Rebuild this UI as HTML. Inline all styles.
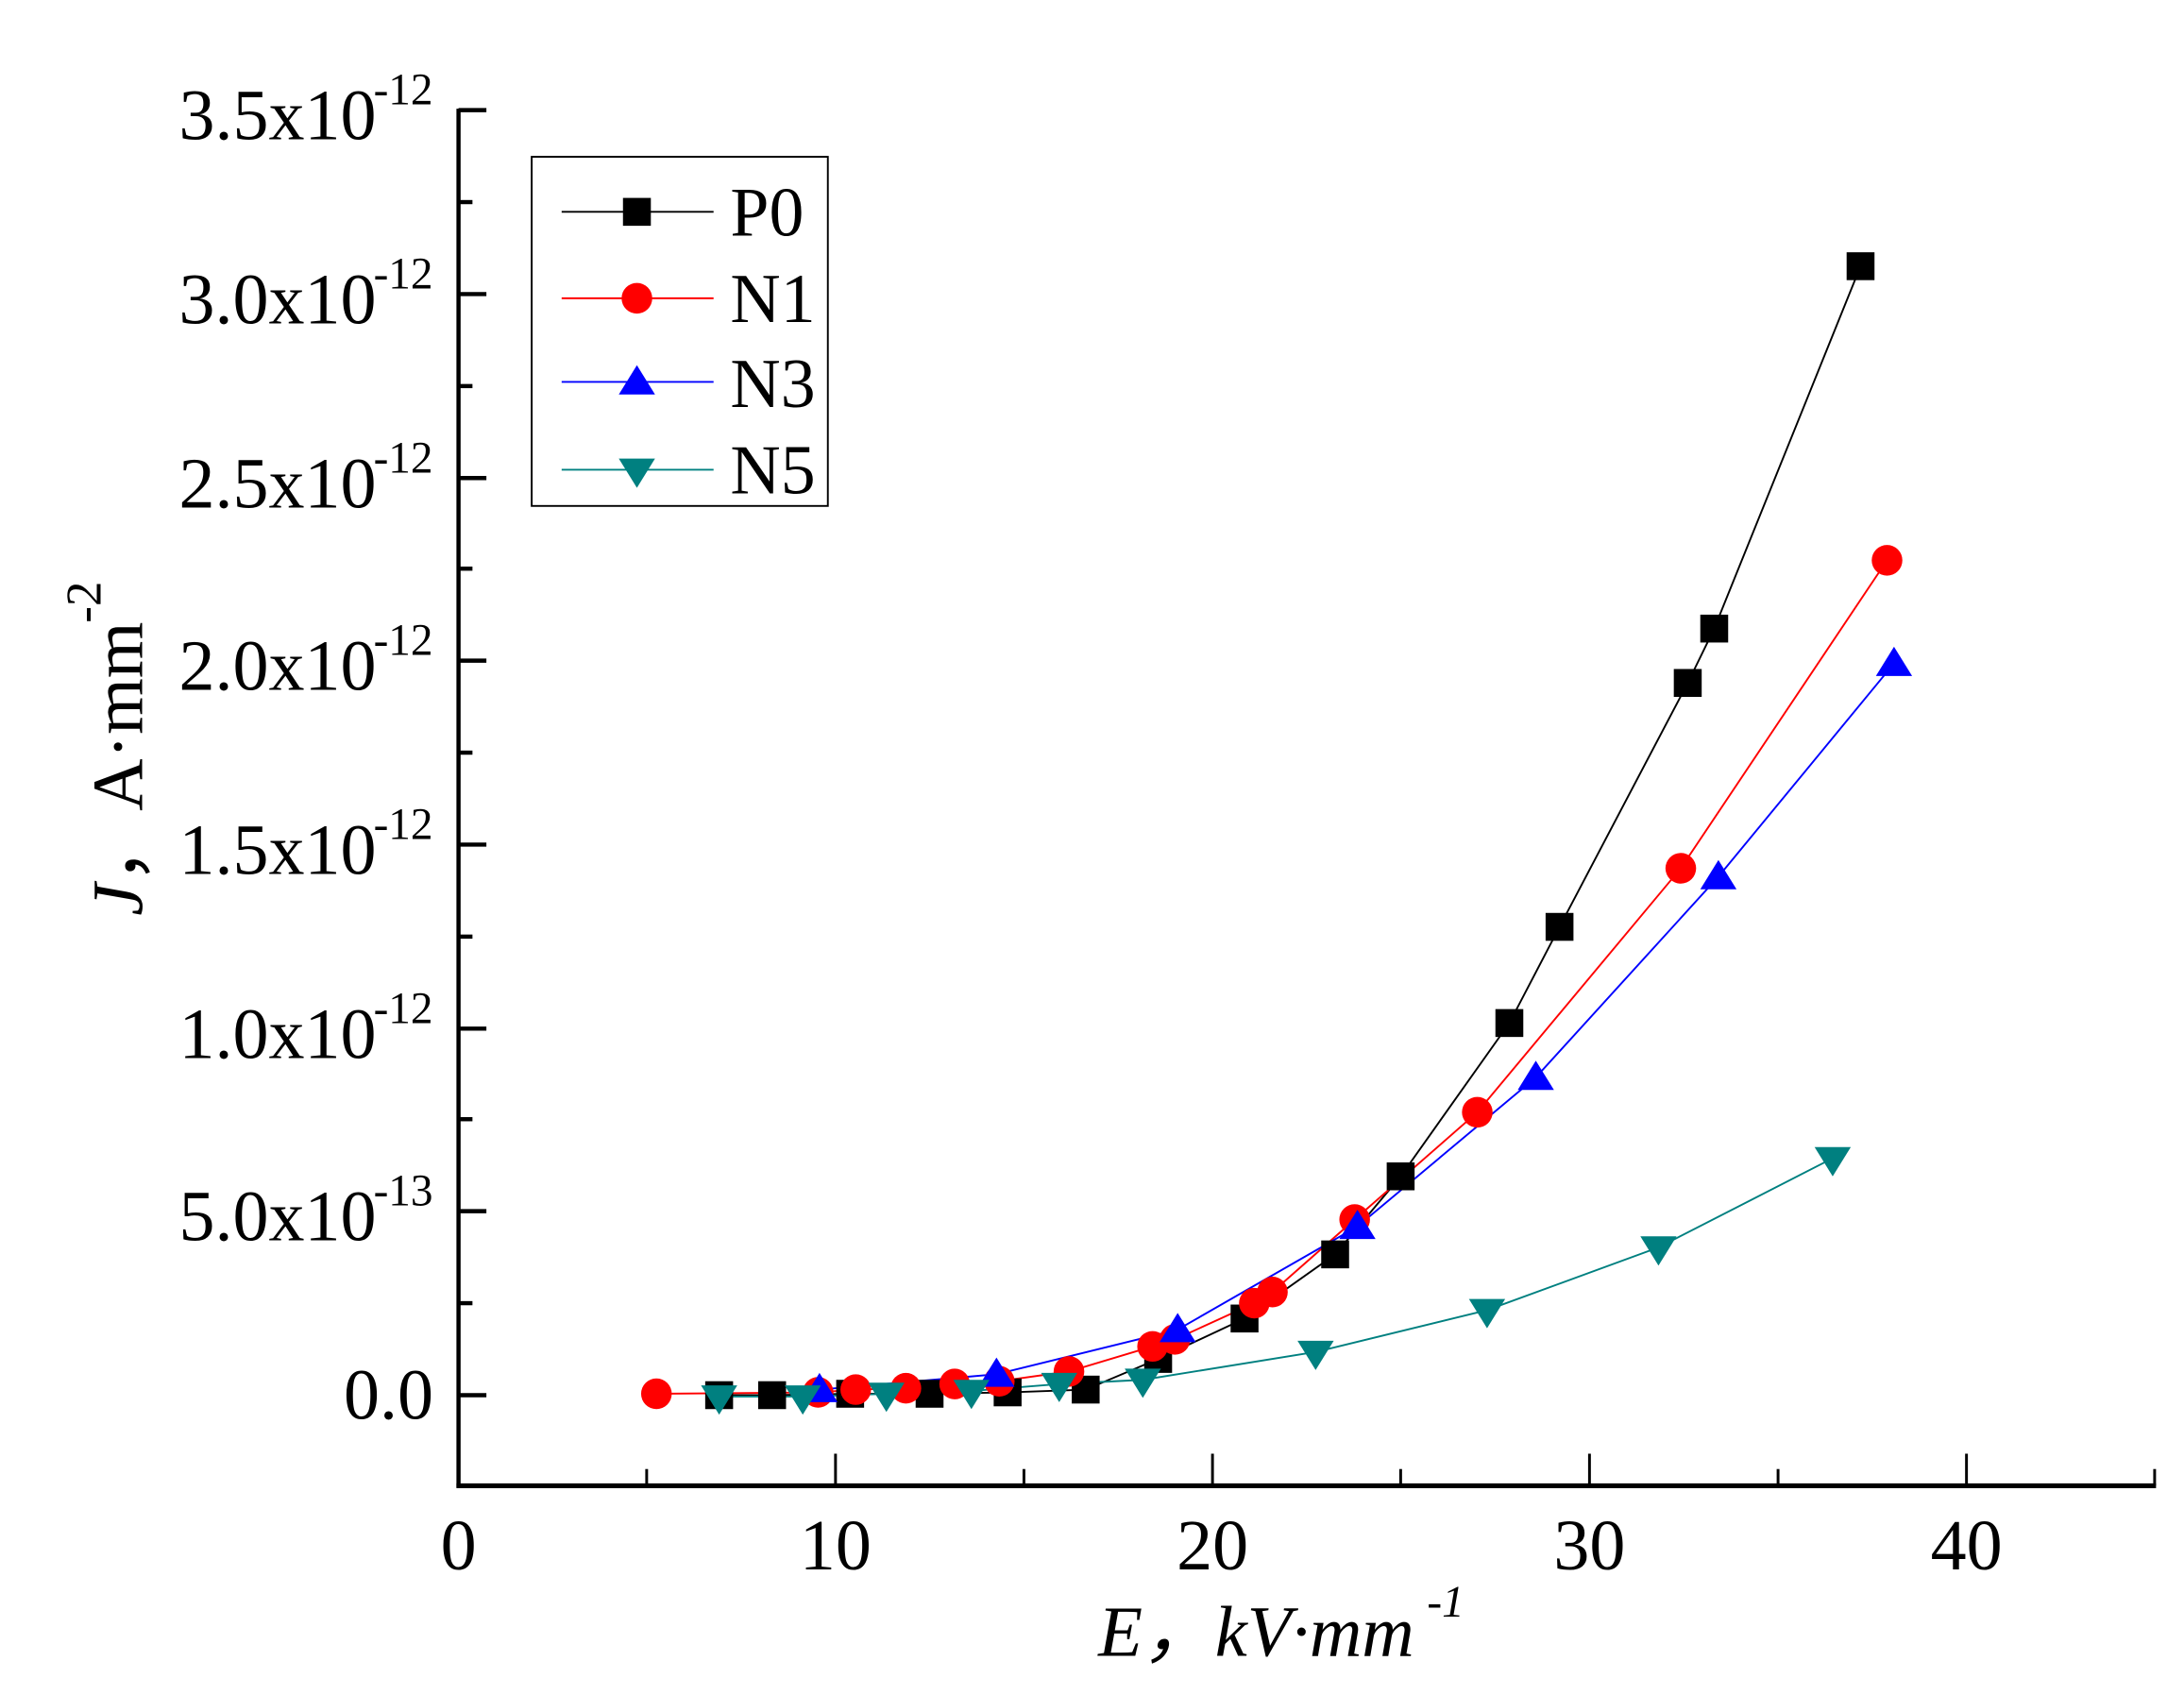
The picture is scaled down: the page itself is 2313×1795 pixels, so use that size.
<!DOCTYPE html>
<html><head><meta charset="utf-8"><style>html,body{margin:0;padding:0;background:#fff}svg{display:block}</style></head>
<body>
<svg width="2313" height="1795" viewBox="0 0 2313 1795" xmlns="http://www.w3.org/2000/svg">
<g transform="scale(1.476)" font-family="Liberation Serif, serif" fill="#000">
<!-- axes -->
<line x1="329" y1="78" x2="329" y2="1067" stroke="#000" stroke-width="3"/>
<line x1="327.5" y1="1066" x2="1547" y2="1066" stroke="#000" stroke-width="3.5"/>
<g stroke="#000" stroke-width="3">
<line x1="329" y1="79" x2="349" y2="79"/><line x1="329" y1="211" x2="349" y2="211"/><line x1="329" y1="343" x2="349" y2="343"/><line x1="329" y1="474" x2="349" y2="474"/><line x1="329" y1="606" x2="349" y2="606"/><line x1="329" y1="738" x2="349" y2="738"/><line x1="329" y1="869" x2="349" y2="869"/><line x1="329" y1="1001" x2="349" y2="1001"/>
<line x1="329" y1="145" x2="339" y2="145"/><line x1="329" y1="277" x2="339" y2="277"/><line x1="329" y1="408" x2="339" y2="408"/><line x1="329" y1="540" x2="339" y2="540"/><line x1="329" y1="672" x2="339" y2="672"/><line x1="329" y1="803" x2="339" y2="803"/><line x1="329" y1="935" x2="339" y2="935"/>
</g>
<g stroke="#000" stroke-width="2">
<line x1="599.5" y1="1066" x2="599.5" y2="1043"/><line x1="870" y1="1066" x2="870" y2="1043"/><line x1="1140.5" y1="1066" x2="1140.5" y2="1043"/><line x1="1411" y1="1066" x2="1411" y2="1043"/>
<line x1="464" y1="1066" x2="464" y2="1054"/><line x1="734.7" y1="1066" x2="734.7" y2="1054"/><line x1="1005" y1="1066" x2="1005" y2="1054"/><line x1="1275.8" y1="1066" x2="1275.8" y2="1054"/><line x1="1546" y1="1066" x2="1546" y2="1054"/>
</g>
<!-- y labels -->
<g font-size="51.5" text-anchor="end">
<text x="270" y="100">3.5x10</text><text x="270" y="232">3.0x10</text><text x="270" y="364">2.5x10</text><text x="270" y="495">2.0x10</text><text x="270" y="627">1.5x10</text><text x="270" y="759">1.0x10</text><text x="270" y="890">5.0x10</text><text x="311" y="1018">0.0</text>
</g>
<g font-size="32" text-anchor="start">
<text x="268" y="75">-12</text><text x="268" y="207">-12</text><text x="268" y="339">-12</text><text x="268" y="470">-12</text><text x="268" y="602">-12</text><text x="268" y="734">-12</text><text x="268" y="865">-13</text>
</g>
<!-- x labels -->
<g font-size="51.5" text-anchor="middle">
<text x="329" y="1126">0</text><text x="599.5" y="1126">10</text><text x="870" y="1126">20</text><text x="1140.5" y="1126">30</text><text x="1411" y="1126">40</text>
</g>
<text x="788" y="1188" font-size="52" font-style="italic">E，kV·mm</text>
<text x="1024" y="1160" font-size="32" font-style="italic">-1</text>
<g transform="translate(102,657) rotate(-90)">
<text x="0" y="0" font-size="52"><tspan font-style="italic">J</tspan>，A·mm</text>
<text x="210" y="-30" font-size="36">-2</text>
</g>
<!-- series -->
<g fill="none" stroke-width="1.3">
<polyline stroke="#000" points="516,1001 554,1001 610,1000 667,1000 723,999 779,997 831,975 893,946 958,900 1005,844 1083,734 1119,665 1211,490 1230,451 1335,191"/>
<polyline stroke="#f00" points="471,1000 587,999 614,997 650,996 685,993 717,991 767,984 827,966 843,961 900,935 913,927 972,875 1060,798 1206,623 1354,402"/>
<polyline stroke="#00f" points="588,997 715,986 845,954 974,880 1102,773 1233,629 1359,476"/>
<polyline stroke="#008080" points="516,1002 576,1002 636,1000 697,998 760,993 820,990 944,970 1067,940 1190,895 1315,831"/>
</g>
<g fill="#000">
<rect x="506" y="991" width="20" height="20"/><rect x="544" y="991" width="20" height="20"/><rect x="600" y="990" width="20" height="20"/><rect x="657" y="990" width="20" height="20"/><rect x="713" y="989" width="20" height="20"/><rect x="769" y="987" width="20" height="20"/><rect x="821" y="965" width="20" height="20"/><rect x="883" y="936" width="20" height="20"/><rect x="948" y="890" width="20" height="20"/><rect x="995" y="834" width="20" height="20"/><rect x="1073" y="724" width="20" height="20"/><rect x="1109" y="655" width="20" height="20"/><rect x="1201" y="480" width="20" height="20"/><rect x="1220" y="441" width="20" height="20"/><rect x="1325" y="181" width="20" height="20"/>
</g>
<g fill="#f00">
<circle cx="471" cy="1000" r="11"/><circle cx="587" cy="999" r="11"/><circle cx="614" cy="997" r="11"/><circle cx="650" cy="996" r="11"/><circle cx="685" cy="993" r="11"/><circle cx="717" cy="991" r="11"/><circle cx="767" cy="984" r="11"/><circle cx="827" cy="966" r="11"/><circle cx="843" cy="961" r="11"/><circle cx="900" cy="935" r="11"/><circle cx="913" cy="927" r="11"/><circle cx="972" cy="875" r="11"/><circle cx="1060" cy="798" r="11"/><circle cx="1206" cy="623" r="11"/><circle cx="1354" cy="402" r="11"/>
</g>
<g fill="#00f">
<polygon points="588,985 601,1006 575,1006"/><polygon points="715,974 728,995 702,995"/><polygon points="845,942 858,963 832,963"/><polygon points="974,868 987,889 961,889"/><polygon points="1102,761 1115,782 1089,782"/><polygon points="1233,617 1246,638 1220,638"/><polygon points="1359,464 1372,485 1346,485"/>
</g>
<g fill="#008080">
<polygon points="503,994 529,994 516,1015"/><polygon points="563,994 589,994 576,1015"/><polygon points="623,992 649,992 636,1013"/><polygon points="684,990 710,990 697,1011"/><polygon points="747,985 773,985 760,1006"/><polygon points="807,982 833,982 820,1003"/><polygon points="931,962 957,962 944,983"/><polygon points="1054,932 1080,932 1067,953"/><polygon points="1177,887 1203,887 1190,908"/><polygon points="1302,823 1328,823 1315,844"/>
</g>
<!-- legend -->
<rect x="381.5" y="112.5" width="212.5" height="250.5" fill="none" stroke="#000" stroke-width="1.3"/>
<line x1="403" y1="152" x2="512" y2="152" stroke="#000" stroke-width="1.3"/>
<rect x="447" y="142" width="20" height="20"/>
<line x1="403" y1="214" x2="512" y2="214" stroke="#f00" stroke-width="1.3"/>
<circle cx="457" cy="214" r="11" fill="#f00"/>
<line x1="403" y1="274" x2="512" y2="274" stroke="#00f" stroke-width="1.3"/>
<polygon points="457,262 470,283 444,283" fill="#00f"/>
<line x1="403" y1="337" x2="512" y2="337" stroke="#008080" stroke-width="1.3"/>
<polygon points="444,329 470,329 457,350" fill="#008080"/>
<g font-size="50">
<text x="524" y="169">P0</text><text x="524" y="231">N1</text><text x="524" y="292">N3</text><text x="524" y="354">N5</text>
</g>
</g>
</svg>
</body></html>
